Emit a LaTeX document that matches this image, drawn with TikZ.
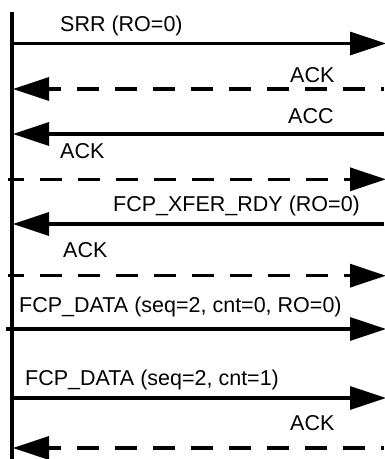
\documentclass[tikz,border=0pt]{standalone}
\usepackage{fontspec}
\setmainfont{Liberation Sans}
\usetikzlibrary{arrows.meta}
\begin{document}
\begin{tikzpicture}[x=1bp,y=-1bp,
  lifeline/.style={line width=3.3bp},
  msg/.style={line width=3.3bp, -{Triangle[length=36bp,width=23bp]}},
  dashmsg/.style={msg, dash pattern=on 22bp off 16bp},
  lbl/.style={anchor=base west, inner sep=0pt, font=\fontsize{21.5bp}{24bp}\selectfont}]
\useasboundingbox (0,0) rectangle (384,459);

% lifeline
\coordinate (top) at (12,12);
\coordinate (bottom) at (12,462);
\draw[lifeline] (top) -- (bottom);

% message end points
\coordinate (a1) at (12,43.5);   \coordinate (b1) at (386,43.5);
\coordinate (a2) at (384,89);    \coordinate (b2) at (13,89);
\coordinate (a3) at (384,134);   \coordinate (b3) at (13,134);
\coordinate (a4) at (8,179.3);   \coordinate (b4) at (386,179.3);
\coordinate (a5) at (384,224);   \coordinate (b5) at (13,224);
\coordinate (a6) at (8,275.7);   \coordinate (b6) at (386,275.7);
\coordinate (a7) at (6,329);     \coordinate (b7) at (386,329);
\coordinate (a8) at (12,398);    \coordinate (b8) at (386,398);
\coordinate (a9) at (384,448);   \coordinate (b9) at (13,448);

% messages
\draw[msg] (a1) -- (b1);
\draw[dashmsg, dash phase=19bp] (a2) -- (b2);
\draw[msg] (a3) -- (b3);
\draw[dashmsg, dash phase=6bp] (a4) -- (b4);
\draw[msg] (a5) -- (b5);
\draw[dashmsg, dash phase=6bp] (a6) -- (b6);
\draw[msg] (a7) -- (b7);
\draw[msg] (a8) -- (b8);
\draw[dashmsg, dash phase=19bp] (a9) -- (b9);

% labels
\node[lbl] (t1) at (60,32)  {SRR (RO=0)};
\node[lbl] (t2) at (290,83) {ACK};
\node[lbl] (t3) at (288,124) {ACC};
\node[lbl] (t4) at (60,159) {ACK};
\node[lbl] (t5) at (113,212) {FCP\_XFER\_RDY (RO=0)};
\node[lbl] (t6) at (63,257) {ACK};
\node[lbl] (t7) at (19,312) {FCP\_DATA (seq=2, cnt=0, RO=0)};
\node[lbl] (t8) at (25,385) {FCP\_DATA (seq=2, cnt=1)};
\node[lbl] (t9) at (290,430) {ACK};
\end{tikzpicture}
\end{document}
